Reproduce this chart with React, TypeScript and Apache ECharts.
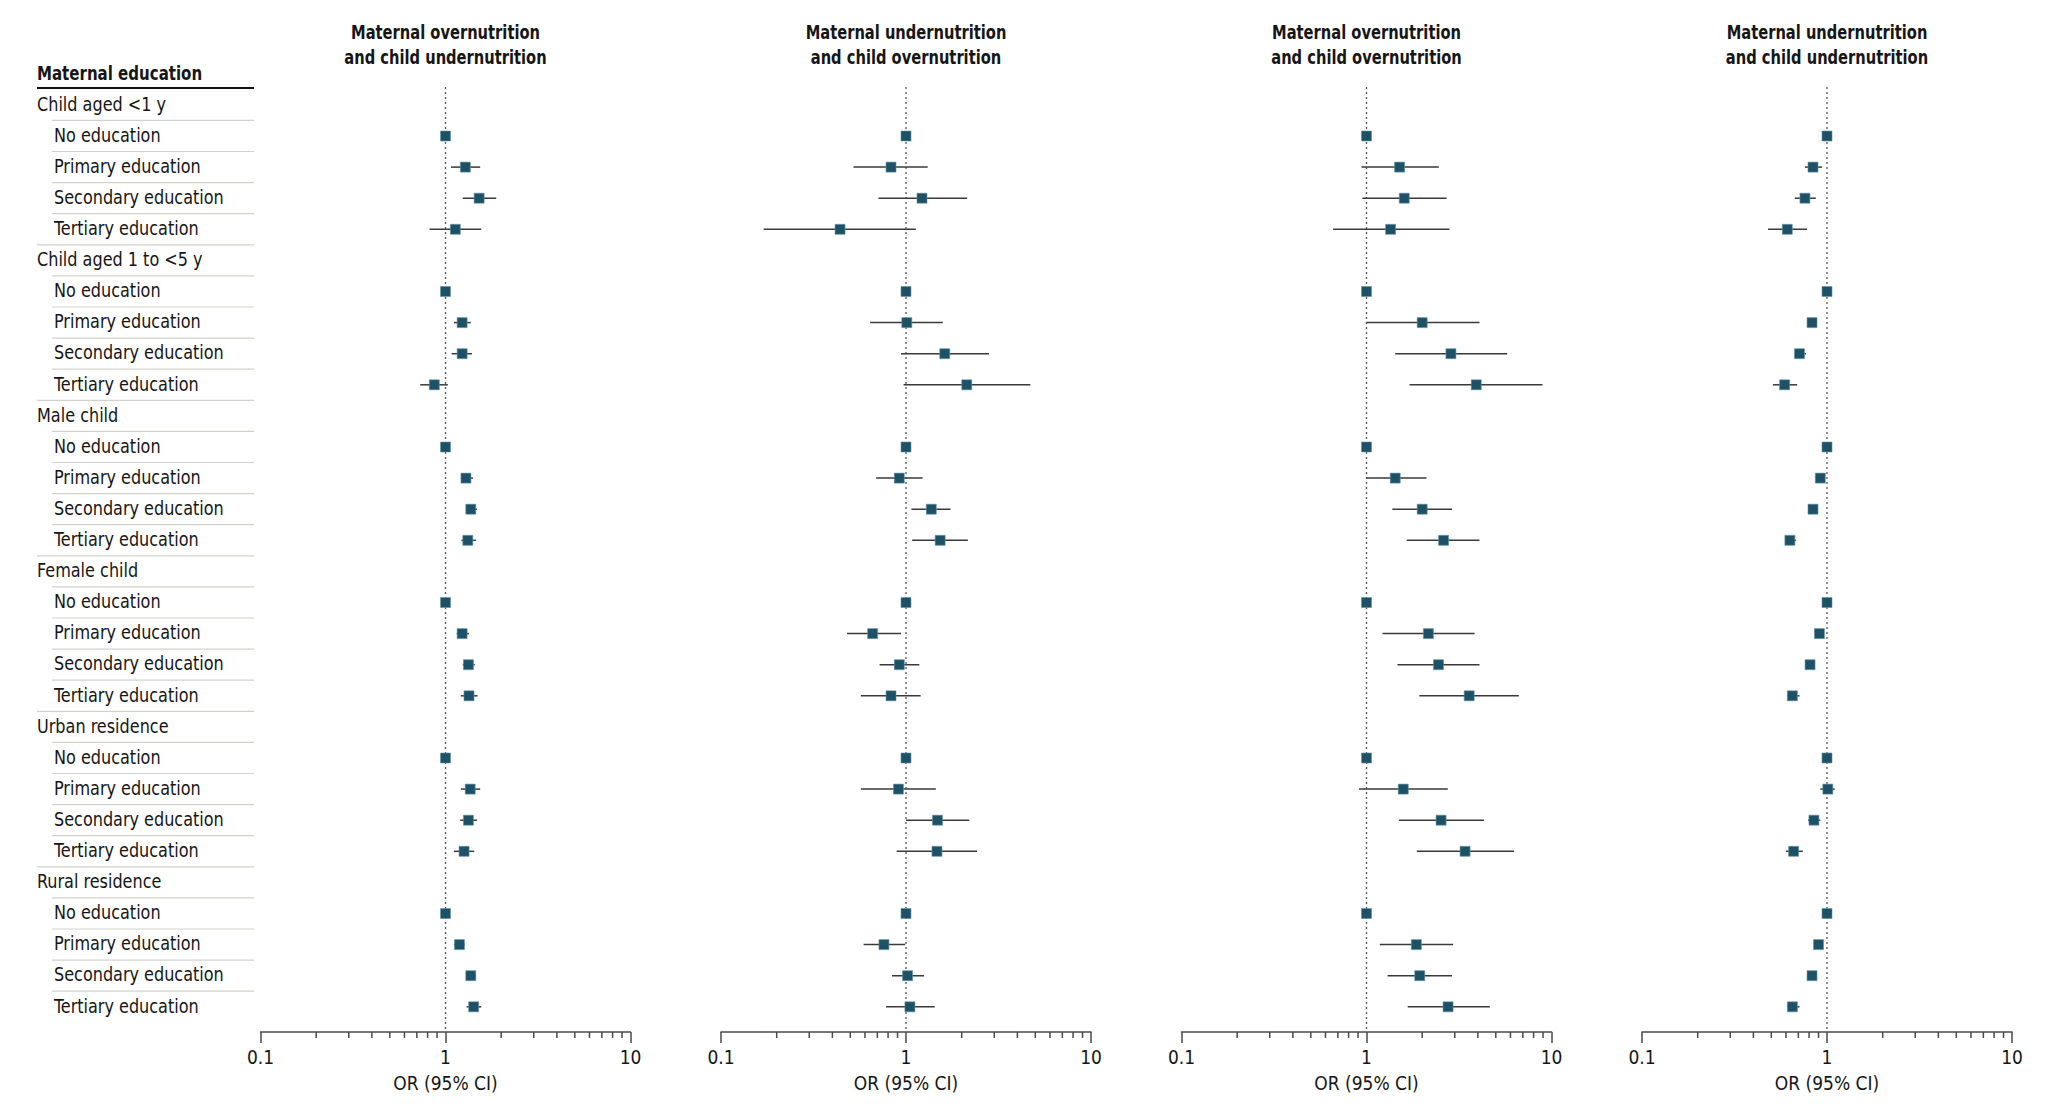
import React, { useEffect, useRef } from "react";
import * as echarts from "echarts";

const FONT = "'DejaVu Sans Condensed', 'DejaVu Sans', sans-serif";

const groups = [
  "Child aged <1 y",
  "Child aged 1 to <5 y",
  "Male child",
  "Female child",
  "Urban residence",
  "Rural residence",
];
const levels = ["No education", "Primary education", "Secondary education", "Tertiary education"];
const tableHeader = "Maternal education";
const axisName = "OR (95% CI)";

const panelTitles = [
  "Maternal overnutrition\nand child undernutrition",
  "Maternal undernutrition\nand child overnutrition",
  "Maternal overnutrition\nand child overnutrition",
  "Maternal undernutrition\nand child undernutrition",
];

const minorTicks = [0.2, 0.3, 0.4, 0.5, 0.6, 0.7, 0.8, 0.9, 2, 3, 4, 5, 6, 7, 8, 9];

// 24 values per panel: 6 groups x 4 education levels
const p1Or = [1, 1.28, 1.52, 1.13, 1, 1.23, 1.23, 0.87, 1, 1.29, 1.37, 1.32, 1, 1.23, 1.33, 1.34, 1, 1.36, 1.33, 1.26, 1, 1.19, 1.37, 1.42];
const p1Lo = [1, 1.07, 1.24, 0.82, 1, 1.11, 1.08, 0.73, 1, 1.21, 1.29, 1.22, 1, 1.15, 1.24, 1.21, 1, 1.21, 1.2, 1.11, 1, 1.11, 1.3, 1.3];
const p1Hi = [1, 1.54, 1.88, 1.56, 1, 1.37, 1.39, 1.03, 1, 1.41, 1.48, 1.46, 1, 1.34, 1.44, 1.49, 1, 1.54, 1.48, 1.43, 1, 1.27, 1.45, 1.56];

const p2Or = [1, 0.83, 1.22, 0.44, 1, 1.01, 1.62, 2.13, 1, 0.92, 1.37, 1.53, 1, 0.66, 0.92, 0.83, 1, 0.91, 1.48, 1.47, 1, 0.76, 1.02, 1.05];
const p2Lo = [1, 0.52, 0.71, 0.17, 1, 0.64, 0.94, 0.97, 1, 0.69, 1.07, 1.08, 1, 0.48, 0.72, 0.57, 1, 0.57, 1.0, 0.89, 1, 0.59, 0.84, 0.78];
const p2Hi = [1, 1.31, 2.14, 1.13, 1, 1.58, 2.81, 4.7, 1, 1.23, 1.74, 2.16, 1, 0.94, 1.18, 1.2, 1, 1.45, 2.2, 2.42, 1, 0.99, 1.25, 1.43];

const p3Or = [1, 1.51, 1.6, 1.35, 1, 2.0, 2.86, 3.92, 1, 1.43, 2.0, 2.61, 1, 2.16, 2.45, 3.59, 1, 1.58, 2.53, 3.41, 1, 1.86, 1.94, 2.76];
const p3Lo = [1, 0.94, 0.95, 0.66, 1, 1.0, 1.43, 1.71, 1, 1.0, 1.38, 1.65, 1, 1.22, 1.47, 1.93, 1, 0.91, 1.5, 1.87, 1, 1.18, 1.3, 1.67];
const p3Hi = [1, 2.46, 2.71, 2.81, 1, 4.08, 5.76, 8.94, 1, 2.11, 2.9, 4.08, 1, 3.84, 4.08, 6.66, 1, 2.75, 4.32, 6.28, 1, 2.94, 2.9, 4.64];

const p4Or = [1, 0.84, 0.76, 0.61, 1, 0.83, 0.71, 0.59, 1, 0.92, 0.84, 0.63, 1, 0.91, 0.81, 0.65, 1, 1.01, 0.85, 0.66, 1, 0.9, 0.83, 0.65];
const p4Lo = [1, 0.76, 0.67, 0.48, 1, 0.79, 0.67, 0.51, 1, 0.87, 0.8, 0.6, 1, 0.87, 0.77, 0.61, 1, 0.92, 0.79, 0.6, 1, 0.86, 0.79, 0.61];
const p4Hi = [1, 0.94, 0.87, 0.78, 1, 0.88, 0.77, 0.69, 1, 0.97, 0.88, 0.68, 1, 0.96, 0.86, 0.71, 1, 1.1, 0.92, 0.74, 1, 0.95, 0.88, 0.71];

const panels = [
  { or: p1Or, lo: p1Lo, hi: p1Hi },
  { or: p2Or, lo: p2Lo, hi: p2Hi },
  { or: p3Or, lo: p3Lo, hi: p3Hi },
  { or: p4Or, lo: p4Lo, hi: p4Hi },
];

// layout
const PANEL_LEFTS = [260.5, 721, 1181.5, 1642];
const PANEL_W = 370;
const GRID_TOP = 87;
const GRID_H = 945;
const Y_MIN = -0.576;
const Y_MAX = 29.81;
const TABLE_LEFT = 37;
const TABLE_W = 217;

const SQUARE = "#1e5166";
const INK = "#161616";
const AXIS = "#4a4a4a";

type TRow = { label: string; k: number; level: number; last: boolean };
const tableRows: TRow[] = [];
groups.forEach((g, gi) => {
  tableRows.push({ label: g, k: gi * 5, level: -1, last: false });
  levels.forEach((l, li) => {
    tableRows.push({
      label: l,
      k: gi * 5 + 1 + li,
      level: li,
      last: gi === groups.length - 1 && li === levels.length - 1,
    });
  });
});

export default function App() {
  const ref = useRef<HTMLDivElement>(null);
  useEffect(() => {
    if (!ref.current) return;
    const chart = echarts.init(ref.current, undefined, { renderer: "svg" });

    const grids: any[] = PANEL_LEFTS.map((l) => ({ left: l, width: PANEL_W, top: GRID_TOP, height: GRID_H }));
    grids.push({ left: TABLE_LEFT, width: TABLE_W, top: GRID_TOP, height: GRID_H });

    const xAxes: any[] = PANEL_LEFTS.map((_, i) => ({
      type: "log",
      logBase: 10,
      gridIndex: i,
      min: 0.1,
      max: 10,
      position: "bottom",
      splitNumber: 2,
      axisLine: { show: true, onZero: false, lineStyle: { color: AXIS, width: 1.5 } },
      axisTick: { show: true, length: 11, lineStyle: { color: AXIS, width: 1.5 } },
      axisLabel: { fontSize: 19, color: INK, margin: 15, fontFamily: FONT },
      splitLine: { show: false },
      name: axisName,
      nameLocation: "middle",
      nameGap: 41,
      nameTextStyle: { fontSize: 19, color: INK, fontFamily: FONT },
    }));
    xAxes.push({ type: "value", gridIndex: 4, min: 0, max: 1, show: false });

    const yAxes: any[] = grids.map((_, i) => ({
      type: "value",
      gridIndex: i,
      min: Y_MIN,
      max: Y_MAX,
      inverse: true,
      show: false,
    }));

    const series: any[] = [];
    panels.forEach((p, i) => {
      series.push({
        type: "line",
        xAxisIndex: i,
        yAxisIndex: i,
        data: [
          [1, Y_MIN],
          [1, Y_MAX],
        ],
        symbol: "none",
        silent: true,
        z: 1,
        lineStyle: { type: [2, 3], color: "#555", width: 1.3 },
      });
      series.push({
        type: "custom",
        xAxisIndex: i,
        yAxisIndex: i,
        z: 3,
        clip: false,
        data: minorTicks.map((v) => [v, Y_MAX]),
        renderItem: (params: any, api: any) => {
          const pt = api.coord([api.value(0), api.value(1)]);
          return {
            type: "line",
            shape: { x1: pt[0], y1: pt[1], x2: pt[0], y2: pt[1] + 6 },
            style: { stroke: AXIS, lineWidth: 1.5 },
          };
        },
      });
      const data: any[] = [];
      groups.forEach((_, gi) => {
        levels.forEach((__, li) => {
          const idx = gi * 4 + li;
          data.push([p.or[idx], p.lo[idx], p.hi[idx], gi * 5 + 1 + li]);
        });
      });
      series.push({
        type: "custom",
        xAxisIndex: i,
        yAxisIndex: i,
        z: 5,
        clip: false,
        data,
        encode: { x: 0, y: 3 },
        renderItem: (params: any, api: any) => {
          const k = api.value(3);
          const c = api.coord([api.value(0), k]);
          const lo = api.coord([api.value(1), k]);
          const hi = api.coord([api.value(2), k]);
          return {
            type: "group",
            children: [
              {
                type: "line",
                shape: { x1: lo[0], y1: c[1], x2: hi[0], y2: c[1] },
                style: { stroke: "#3a3a3a", lineWidth: 1.5 },
              },
              {
                type: "rect",
                shape: { x: c[0] - 5, y: c[1] - 5, width: 10, height: 10 },
                style: { fill: SQUARE, stroke: "#5f93a6", lineWidth: 0.6 },
              },
            ],
          };
        },
      });
    });

    series.push({
      type: "custom",
      xAxisIndex: 4,
      yAxisIndex: 4,
      clip: false,
      data: tableRows.map((r) => [0, r.k]),
      renderItem: (params: any, api: any) => {
        const r = tableRows[params.dataIndex];
        const p0 = api.coord([0, r.k]);
        const p1 = api.coord([1, r.k]);
        const children: any[] = [
          {
            type: "text",
            x: p0[0] + (r.level >= 0 ? 17 : 0),
            y: p0[1] - 1,
            scaleX: 0.94,
            style: {
              text: r.label,
              x: 0,
              y: 0,
              fill: INK,
              fontSize: 19,
              fontFamily: FONT,
              align: "left",
              verticalAlign: "middle",
            },
          },
        ];
        if (!r.last) {
          const sx = r.level === 3 ? p0[0] : p0[0] + 15;
          children.push({
            type: "line",
            shape: { x1: sx, y1: p0[1] + 15.5, x2: p1[0], y2: p0[1] + 15.5 },
            style: { stroke: "#d2d2cc", lineWidth: 1.2 },
          });
        }
        return { type: "group", children };
      },
    });

    const graphic: any[] = [
      {
        type: "text",
        x: TABLE_LEFT,
        y: 73,
        scaleX: 0.88,
        style: {
          text: tableHeader,
          x: 0,
          y: 0,
          fill: INK,
          fontSize: 19,
          fontWeight: "bold",
          fontFamily: FONT,
          align: "left",
          verticalAlign: "middle",
          textAlign: "left",
          textVerticalAlign: "middle",
        },
      },
      {
        type: "line",
        shape: { x1: TABLE_LEFT, y1: 88, x2: TABLE_LEFT + TABLE_W, y2: 88 },
        style: { stroke: "#111", lineWidth: 2 },
      },
    ];
    panelTitles.forEach((t, i) => {
      graphic.push({
        type: "text",
        x: PANEL_LEFTS[i] + PANEL_W / 2,
        y: 45,
        scaleX: 0.86,
        style: {
          text: t,
          x: 0,
          y: 0,
          fill: INK,
          fontSize: 19,
          fontWeight: "bold",
          fontFamily: FONT,
          lineHeight: 25,
          align: "center",
          verticalAlign: "middle",
          textAlign: "center",
          textVerticalAlign: "middle",
        },
      });
    });

    chart.setOption({
      animation: false,
      backgroundColor: "#ffffff",
      grid: grids,
      xAxis: xAxes,
      yAxis: yAxes,
      series,
      graphic,
    });
    return () => chart.dispose();
  }, []);
  return (
    <div
      ref={ref}
      style={{ position: "fixed", left: 0, top: 0, width: 2048, height: 1108, background: "#fff" }}
    />
  );
}
